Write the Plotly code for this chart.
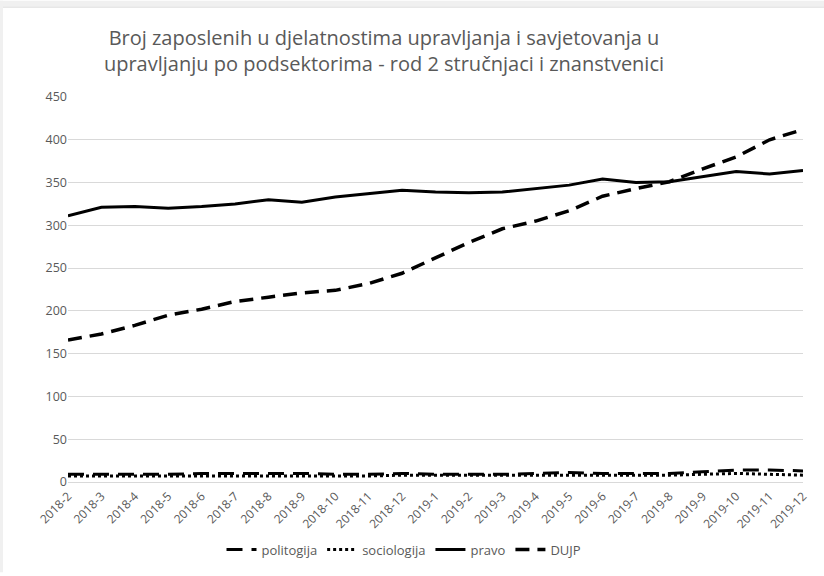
""" Broj zaposlenih po podsektorima - line chart """

import plotly.graph_objects as go

months = ["2018-2", "2018-3", "2018-4", "2018-5", "2018-6", "2018-7", "2018-8",
          "2018-9", "2018-10", "2018-11", "2018-12", "2019-1", "2019-2", "2019-3",
          "2019-4", "2019-5", "2019-6", "2019-7", "2019-8", "2019-9", "2019-10",
          "2019-11", "2019-12"]

politogija = [9, 9, 9, 9, 10, 10, 10, 10, 9, 9, 10, 9, 9, 9, 10, 11, 10, 10, 10, 12, 14, 14, 13]
sociologija = [7, 7, 7, 7, 7, 7, 7, 7, 7, 7, 8, 8, 8, 8, 8, 8, 8, 8, 8, 9, 10, 9, 8]
pravo = [311, 321, 322, 320, 322, 325, 330, 327, 333, 337, 341, 339, 338, 339,
         343, 347, 354, 350, 351, 357, 363, 360, 364]
dujp = [166, 173, 183, 195, 202, 211, 216, 221, 224, 232, 244, 262, 280, 296,
        305, 317, 334, 343, 351, 366, 380, 400, 412]

y_ticks = [0, 50, 100, 150, 200, 250, 300, 350, 400, 450]

W, H = 824, 576
L, R, T, B = 68, 21, 97, 91
GREY = "#595959"
FONT = "Open Sans"

fig = go.Figure()

series = [
    ("politogija", politogija, dict(width=3, dash="16px,9px")),
    ("sociologija", sociologija, dict(width=3, dash="3px,3px")),
    ("pravo", pravo, dict(width=3)),
    ("DUJP", dujp, dict(width=3.5, dash="14px,8px")),
]
for name, vals, line in series:
    fig.add_trace(go.Scatter(
        x=months, y=vals, name=name, mode="lines",
        line=dict(color="black", **line)))

# thin grey frame along top and left edge
plot_w, plot_h = W - L - R, H - T - B
fig.add_shape(type="rect", xref="paper", yref="paper", layer="above",
              x0=-L / plot_w, x1=(W - L) / plot_w,
              y0=1 + (T - 6) / plot_h, y1=1 + T / plot_h,
              fillcolor="#f0f0f0", line_width=0)
fig.add_shape(type="line", xref="paper", yref="paper", layer="above",
              x0=-L / plot_w, x1=(W - L) / plot_w,
              y0=1 + (T - 6.5) / plot_h, y1=1 + (T - 6.5) / plot_h,
              line=dict(color="#dcdcdc", width=1))
fig.add_shape(type="rect", xref="paper", yref="paper", layer="above",
              x0=-L / plot_w, x1=(3 - L) / plot_w,
              y0=-B / plot_h, y1=1 + T / plot_h,
              fillcolor="#f0f0f0", line_width=0)

fig.update_layout(
    width=W, height=H,
    margin=dict(l=L, r=R, t=T, b=B),
    paper_bgcolor="white", plot_bgcolor="white",
    font=dict(family=FONT, color=GREY, size=12),
    title=dict(
        text="Broj zaposlenih u djelatnostima upravljanja i savjetovanja u<br>"
             "upravljanju po podsektorima - rod 2 stručnjaci i znanstvenici",
        x=384 / W, xanchor="center", xref="container",
        y=1 - 45 / H, yanchor="middle", yref="container",
        font=dict(family=FONT, size=20, color=GREY)),
    legend=dict(orientation="h", x=(404 - L) / plot_w, xanchor="center",
                y=-(553 - (H - B)) / plot_h, yanchor="middle",
                font=dict(size=13, color=GREY), itemwidth=30,
                bgcolor="rgba(0,0,0,0)"),
    showlegend=True,
)

fig.update_xaxes(type="category", tickangle=-45, showgrid=False, automargin=False,
                 showline=False, ticks="", ticklabelstandoff=4,
                 tickfont=dict(size=12, color=GREY))
fig.update_yaxes(range=[0, 450], tickvals=y_ticks, showgrid=True, automargin=False,
                 gridcolor="#d9d9d9", gridwidth=1, zeroline=True,
                 zerolinecolor="#d9d9d9", zerolinewidth=1, showline=False,
                 ticks="", tickfont=dict(size=12.5, color=GREY))

fig.write_html("out.html", config={"displayModeBar": False},
               post_script="document.body.style.margin='0';")
